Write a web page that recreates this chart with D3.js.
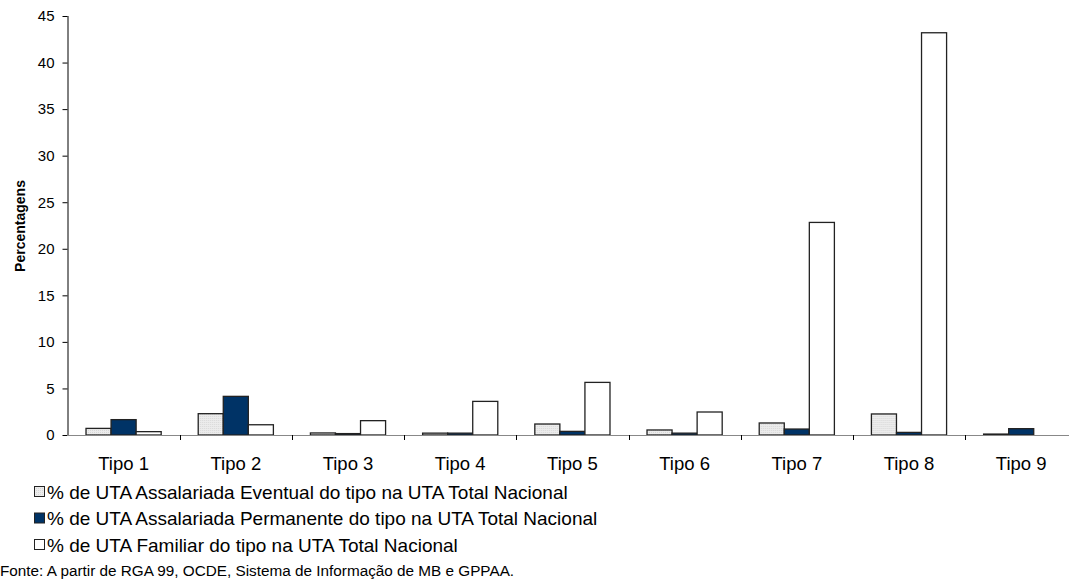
<!DOCTYPE html>
<html>
<head>
<meta charset="utf-8">
<script src="https://cdn.jsdelivr.net/npm/d3@7"></script>
<style>
  html, body { margin: 0; padding: 0; background: #fff; }
  svg { display: block; font-family: "Liberation Sans", Arial, sans-serif; }
</style>
</head>
<body>
<svg id="chart" width="1069" height="580"></svg>
<script>
// Categories (farm types)
const categories = ["Tipo 1", "Tipo 2", "Tipo 3", "Tipo 4", "Tipo 5", "Tipo 6", "Tipo 7", "Tipo 8", "Tipo 9"];

// Share (%) of each labour type in the national total AWU
const eventual    = [0.71, 2.29, 0.22, 0.20, 1.18, 0.54, 1.29, 2.26, 0.10];
const permanente  = [1.65, 4.15, 0.15, 0.20, 0.39, 0.20, 0.64, 0.28, 0.68];
const familiar    = [0.36, 1.10, 1.54, 3.61, 5.65, 2.47, 22.83, 43.2, 0.0];

const seriesNames = [
  "% de UTA Assalariada Eventual do tipo na UTA Total Nacional",
  "% de UTA Assalariada Permanente do tipo na UTA Total Nacional",
  "% de UTA Familiar do tipo na UTA Total Nacional"
];
const yTicks = [0, 5, 10, 15, 20, 25, 30, 35, 40, 45];
const sourceText = "Fonte: A partir de RGA 99, OCDE, Sistema de Informação de MB e GPPAA.";

const series = [eventual, permanente, familiar];
const fills = ["url(#dots)", "#003366", "#ffffff"];

const svg = d3.select("#chart");

// light dotted fill for the first series
const defs = svg.append("defs");
const pat = defs.append("pattern")
  .attr("id", "dots").attr("patternUnits", "userSpaceOnUse")
  .attr("width", 2).attr("height", 2);
pat.append("rect").attr("width", 2).attr("height", 2).attr("fill", "#ececec");
pat.append("rect").attr("width", 1).attr("height", 1).attr("fill", "#d8d8d8");

const margin = { left: 67.5, top: 16, bottom: 435 };
const x0 = d3.scaleBand().domain(categories).range([67.5, 1077.3]).paddingInner(0).paddingOuter(0);
const groupW = x0.bandwidth() * 0.67;
const x1 = d3.scaleBand().domain([0, 1, 2]).range([0, groupW]);
const y = d3.scaleLinear().domain([0, 45]).range([margin.bottom, margin.top]);

// y axis
const yAxis = svg.append("g")
  .attr("transform", `translate(${margin.left},0)`)
  .call(d3.axisLeft(y).tickValues(yTicks).tickSize(5).tickPadding(8));
yAxis.select(".domain").attr("stroke", "#000").attr("d", `M0.5,${y(45)}V${y(0)}`);
yAxis.selectAll(".tick line").attr("stroke", "#000");
yAxis.selectAll(".tick text").attr("font-size", 15).attr("fill", "#000")
  .attr("font-family", "Liberation Sans, Arial, sans-serif");

// y axis title
svg.append("text")
  .attr("transform", `translate(25,226) rotate(-90)`)
  .attr("text-anchor", "middle")
  .attr("font-size", 14).attr("font-weight", "bold")
  .text("Percentagens");

// bars
const groups = svg.append("g").selectAll("g")
  .data(categories).join("g")
  .attr("transform", d => `translate(${x0(d) + (x0.bandwidth() - groupW) / 2},0)`);

groups.selectAll("rect")
  .data((d, i) => series.map((s, k) => ({ k, v: s[i] })))
  .join("rect")
  .attr("x", d => x1(d.k))
  .attr("width", x1.bandwidth())
  .attr("y", d => y(d.v))
  .attr("height", d => y(0) - y(d.v))
  .attr("fill", d => fills[d.k])
  .attr("stroke", "#222")
  .attr("stroke-width", 1.3);

// x axis
const xAxis = svg.append("g")
  .attr("transform", `translate(0,${y(0)})`)
  .call(d3.axisBottom(x0).tickSize(0).tickPadding(22));
xAxis.select(".domain").attr("stroke", "#888").attr("d", `M${margin.left},0.5H1069`);
xAxis.selectAll(".tick text").attr("font-size", 18.5).attr("fill", "#000")
  .attr("font-family", "Liberation Sans, Arial, sans-serif");
// category separators
svg.append("g").selectAll("line")
  .data(categories.slice(1)).join("line")
  .attr("x1", d => Math.round(x0(d)) + 0.5).attr("x2", d => Math.round(x0(d)) + 0.5)
  .attr("y1", y(0)).attr("y2", y(0) + 5)
  .attr("stroke", "#000");

// legend
const legend = svg.append("g").selectAll("g")
  .data(seriesNames).join("g")
  .attr("transform", (d, i) => `translate(34,${492 + i * 26.5})`);
legend.append("rect")
  .attr("x", 0.5).attr("y", -5.5).attr("width", 10).attr("height", 10)
  .attr("fill", (d, i) => fills[i]).attr("stroke", "#222");
legend.append("text")
  .attr("x", 13).attr("y", 6.5)
  .attr("font-size", 19)
  .text(d => d);

// source note
svg.append("text")
  .attr("x", 0).attr("y", 576)
  .attr("font-size", 15.3)
  .text(sourceText);
</script>
</body>
</html>
